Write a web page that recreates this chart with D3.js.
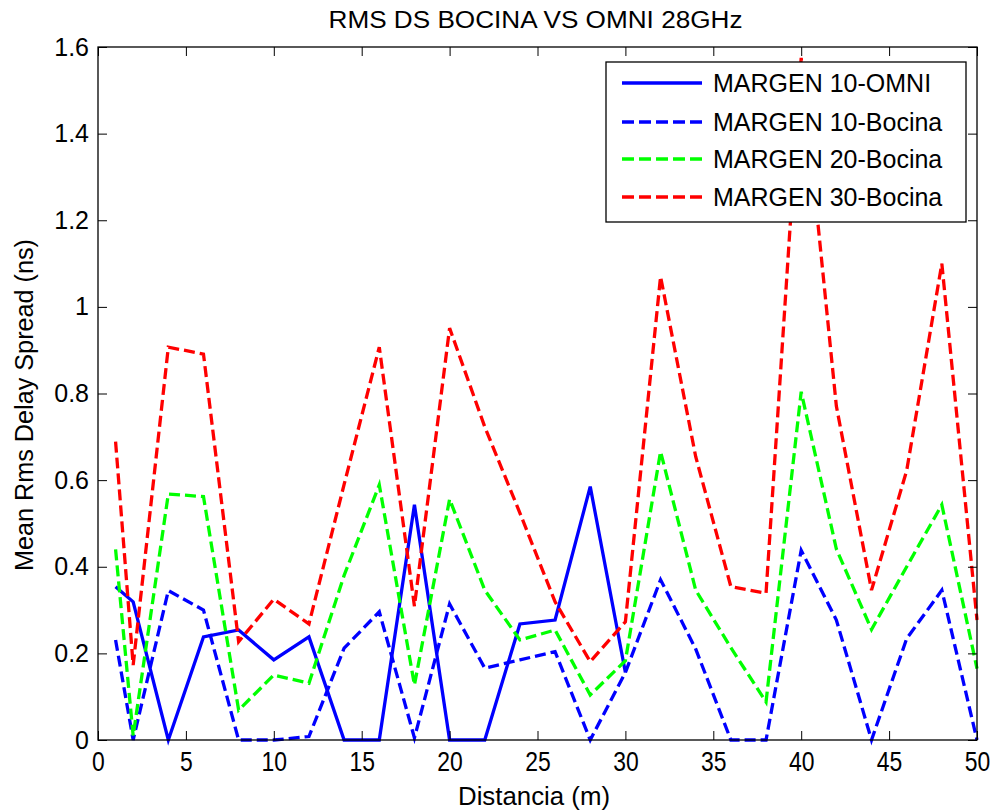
<!DOCTYPE html>
<html>
<head>
<meta charset="utf-8">
<script src="https://cdn.jsdelivr.net/npm/d3@7"></script>
<style>
  html, body { margin: 0; padding: 0; background: #fff; }
  svg { display: block; font-family: "Liberation Sans", Arial, sans-serif; }
</style>
</head>
<body>
<svg id="chart" width="993" height="811"></svg>
<script>
// ---- data ----
const distances = [1,2,4,6,8,10,12,14,16,18,20,22,24,26,28,30,32,34,36,38,40,42,44,46,48,50];
const omni10 = [0.354,0.319,0,0.238,0.254,0.185,0.238,0,0,0.543,0,0,0.268,0.277,0.585,0.156];
const bocina10 = [0.231,0,0.345,0.300,0,0,0.008,0.212,0.296,0.005,0.314,0.166,0.185,0.204,0,0.156,0.370,0.21,0,0,0.438,0.277,0,0.234,0.346,0];
const bocina20 = [0.440,0.01,0.568,0.562,0.069,0.150,0.131,0.38,0.589,0.127,0.556,0.346,0.231,0.254,0.104,0.183,0.666,0.346,0.213,0.088,0.804,0.441,0.255,0.40,0.543,0.165];
const bocina30 = [0.689,0.173,0.907,0.891,0.227,0.325,0.268,0.59,0.907,0.309,0.951,0.723,0.524,0.319,0.181,0.273,1.070,0.654,0.354,0.339,1.575,0.771,0.346,0.622,1.10,0.277];
const seriesNames = ["MARGEN 10-OMNI","MARGEN 10-Bocina","MARGEN 20-Bocina","MARGEN 30-Bocina"];
const xTicks = [0,5,10,15,20,25,30,35,40,45,50];
const yTicks = [0,0.2,0.4,0.6,0.8,1,1.2,1.4,1.6];
const titleText = "RMS DS BOCINA VS OMNI 28GHz";
const xLabel = "Distancia (m)";
const yLabel = "Mean Rms Delay Spread (ns)";

// ---- layout ----
const L = 98, R = 977, T = 47, B = 740;
const svg = d3.select("#chart");
const x = d3.scaleLinear().domain([0,50]).range([L,R]);
const y = d3.scaleLinear().domain([0,1.6]).range([B,T]);

const series = [
  {name: seriesNames[0], values: omni10, color: "#0000ff", dash: null},
  {name: seriesNames[1], values: bocina10, color: "#0000ff", dash: "11,5"},
  {name: seriesNames[2], values: bocina20, color: "#00ff00", dash: "11,5"},
  {name: seriesNames[3], values: bocina30, color: "#ff0000", dash: "11,5"}
];

// white plot background
svg.append("rect").attr("x",L).attr("y",T).attr("width",R-L).attr("height",B-T).attr("fill","#fff");

// lines
const line = d3.line().x((d,i)=>x(distances[i])).y(d=>y(d));
series.forEach(s=>{
  svg.append("path").datum(s.values)
    .attr("d", line)
    .attr("fill","none")
    .attr("stroke", s.color)
    .attr("stroke-width", 3.3)
    .attr("stroke-linejoin","miter")
    .attr("stroke-dasharray", s.dash);
});

// axes
const tick = 9;
const gx = svg.append("g").attr("transform",`translate(0,${B})`)
  .call(d3.axisBottom(x).tickValues(xTicks).tickFormat(d3.format("d")).tickSizeInner(-tick).tickSizeOuter(0).tickPadding(12));
gx.selectAll("text").attr("font-size",27).attr("font-family","'Liberation Sans', Arial, sans-serif").attr("fill","#000").attr("transform","scale(0.85,1)");
const gy = svg.append("g").attr("transform",`translate(${L},0)`)
  .call(d3.axisLeft(y).tickValues(yTicks).tickFormat(d=>d3.format("")(+d.toFixed(1))).tickSizeInner(-tick).tickSizeOuter(0).tickPadding(9));
gy.selectAll("text").attr("font-size",25).attr("font-family","'Liberation Sans', Arial, sans-serif").attr("fill","#000");
svg.append("g").attr("transform",`translate(0,${T})`)
  .call(d3.axisTop(x).tickValues(xTicks).tickFormat("").tickSizeInner(-tick).tickSizeOuter(0));
svg.append("g").attr("transform",`translate(${R},0)`)
  .call(d3.axisRight(y).tickValues(yTicks).tickFormat("").tickSizeInner(-tick).tickSizeOuter(0));
svg.selectAll(".domain").remove();
svg.selectAll(".tick line").attr("stroke","#000").attr("stroke-width",1);
svg.append("rect").attr("x",L).attr("y",T).attr("width",R-L).attr("height",B-T)
  .attr("fill","none").attr("stroke","#000").attr("stroke-width",1.3);

// title and labels
svg.append("text").attr("x",(L+R)/2 - 2).attr("y",28).attr("text-anchor","middle")
  .attr("font-size",23).attr("textLength",414).attr("lengthAdjust","spacingAndGlyphs")
  .text(titleText);
svg.append("text").attr("x",534).attr("y",805).attr("text-anchor","middle")
  .attr("font-size",25).attr("textLength",152).attr("lengthAdjust","spacingAndGlyphs")
  .text(xLabel);
svg.append("text").attr("transform","translate(33,405) rotate(-90)").attr("text-anchor","middle")
  .attr("font-size",26).attr("textLength",332).attr("lengthAdjust","spacingAndGlyphs")
  .text(yLabel);

// legend
const lg = svg.append("g");
lg.append("rect").attr("x",606).attr("y",62).attr("width",360).attr("height",160)
  .attr("fill","#fff").attr("stroke","#000").attr("stroke-width",1.3);
const rowY = [83, 122, 159, 197];
series.forEach((s,i)=>{
  lg.append("line").attr("x1",622).attr("x2",702).attr("y1",rowY[i]).attr("y2",rowY[i])
    .attr("stroke",s.color).attr("stroke-width",3.3).attr("stroke-dasharray", s.dash ? "12,5" : null);
  lg.append("text").attr("x",713).attr("y",rowY[i]).attr("dy","0.36em")
    .attr("font-size",25).text(s.name);
});
</script>
</body>
</html>
